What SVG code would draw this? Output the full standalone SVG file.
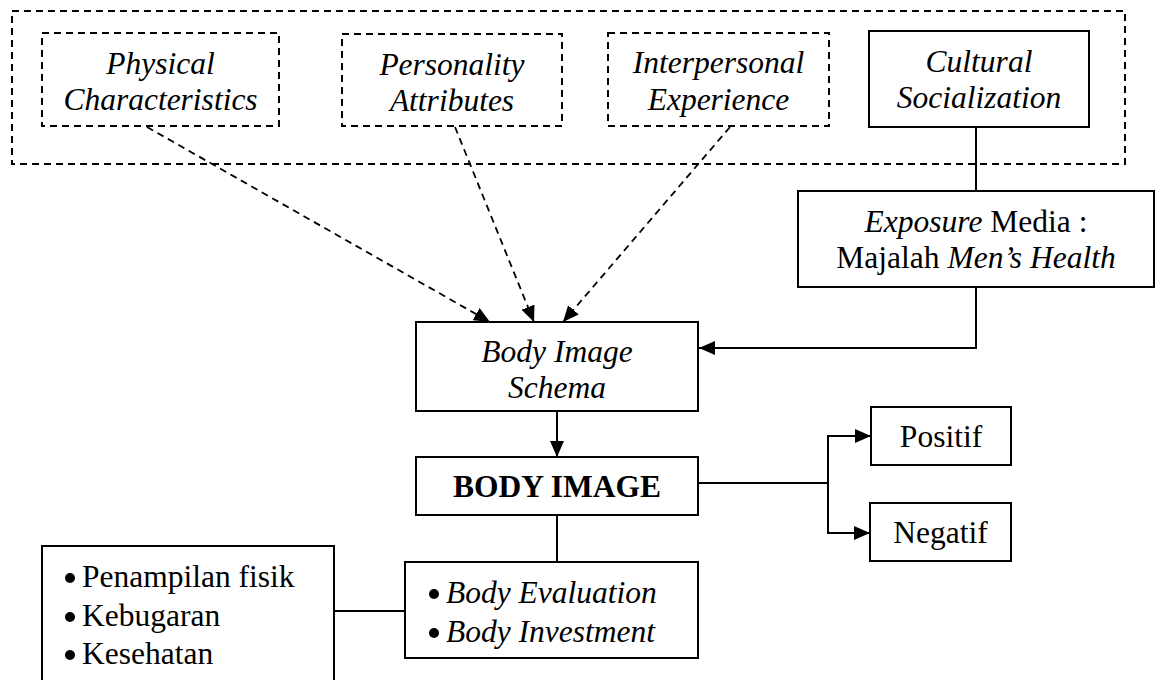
<svg xmlns="http://www.w3.org/2000/svg" width="1158" height="680" viewBox="0 0 1158 680">
<style>
text{font-family:"Liberation Serif","Times New Roman",serif;font-size:31.5px;fill:#000;text-anchor:middle}
.it{font-style:italic}
.b{font-weight:bold}
.box{fill:#fff;stroke:#000;stroke-width:2}
.dbox{fill:none;stroke:#000;stroke-width:2;stroke-dasharray:7 5}
.ln{fill:none;stroke:#000;stroke-width:2}
.dl{fill:none;stroke:#000;stroke-width:1.8;stroke-dasharray:7 5}
.l{text-anchor:start}
</style>
<defs>
<marker id="ah" viewBox="0 0 16 14" refX="16" refY="7" markerWidth="16" markerHeight="14" markerUnits="userSpaceOnUse" orient="auto">
<path d="M0,0 L16,7 L0,14 z" fill="#000"/>
</marker>
</defs>
<rect id="outer" class="dbox" x="12" y="11" width="1113" height="153"/>
<g id="connectors">
<line class="dl" x1="147" y1="127" x2="490" y2="322" marker-end="url(#ah)"/>
<line class="dl" x1="455" y1="127" x2="534" y2="322" marker-end="url(#ah)"/>
<line class="dl" x1="730" y1="127" x2="563" y2="322" marker-end="url(#ah)"/>
<line class="ln" x1="976" y1="127" x2="976" y2="191"/>
<polyline class="ln" points="976,287 976,348 699,348" marker-end="url(#ah)"/>
<line class="ln" x1="557" y1="411" x2="557" y2="457" marker-end="url(#ah)"/>
<line class="ln" x1="698" y1="483" x2="828" y2="483"/>
<line class="ln" x1="828" y1="435" x2="828" y2="534"/>
<line class="ln" x1="828" y1="436" x2="871" y2="436" marker-end="url(#ah)"/>
<line class="ln" x1="828" y1="533" x2="870" y2="533" marker-end="url(#ah)"/>
<line class="ln" x1="557" y1="515" x2="557" y2="562"/>
<line class="ln" x1="334" y1="611" x2="405" y2="611"/>
</g>
<g id="physical">
<rect class="dbox" x="42" y="33" width="237" height="93"/>
<text class="it" x="160.5" y="74">Physical</text>
<text class="it" x="160.5" y="110">Characteristics</text>
</g>
<g id="personality">
<rect class="dbox" x="342" y="34" width="220" height="92"/>
<text class="it" x="452" y="75">Personality</text>
<text class="it" x="452" y="111">Attributes</text>
</g>
<g id="interpersonal">
<rect class="dbox" x="608" y="33" width="221" height="93"/>
<text class="it" x="718.5" y="73">Interpersonal</text>
<text class="it" x="718.5" y="110">Experience</text>
</g>
<g id="cultural">
<rect class="box" x="869" y="31" width="220" height="96"/>
<text class="it" x="979" y="72">Cultural</text>
<text class="it" x="979" y="108">Socialization</text>
</g>
<g id="exposure">
<rect class="box" x="798" y="191" width="356" height="96"/>
<text x="976" y="232"><tspan class="it">Exposure</tspan> Media :</text>
<text x="976" y="268">Majalah <tspan class="it">Men’s Health</tspan></text>
</g>
<g id="schema">
<rect class="box" x="416" y="322" width="282" height="89"/>
<text class="it" x="557" y="362">Body Image</text>
<text class="it" x="557" y="398">Schema</text>
</g>
<g id="bodyimage">
<rect class="box" x="416" y="457" width="282" height="58"/>
<text class="b" x="557" y="497">BODY IMAGE</text>
</g>
<g id="positif">
<rect class="box" x="871" y="407" width="140" height="58"/>
<text x="941" y="447">Positif</text>
</g>
<g id="negatif">
<rect class="box" x="870" y="503" width="141" height="58"/>
<text x="940.5" y="543">Negatif</text>
</g>
<g id="evaluation">
<rect class="box" x="405" y="562" width="293" height="96"/>
<circle cx="434" cy="594" r="5"/>
<circle cx="434" cy="633" r="5"/>
<text class="it l" x="446" y="603">Body Evaluation</text>
<text class="it l" x="446" y="642">Body Investment</text>
</g>
<g id="aspects">
<rect class="box" x="42" y="546" width="292" height="150"/>
<circle cx="70" cy="578" r="5"/>
<circle cx="70" cy="617" r="5"/>
<circle cx="70" cy="655" r="5"/>
<text class="l" x="82" y="587">Penampilan fisik</text>
<text class="l" x="82" y="626">Kebugaran</text>
<text class="l" x="82" y="664">Kesehatan</text>
</g>
</svg>
